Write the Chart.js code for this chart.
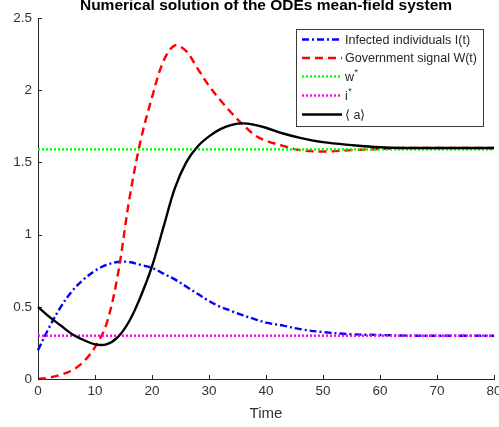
<!DOCTYPE html>
<html>
<head>
<meta charset="utf-8">
<script src="https://cdn.jsdelivr.net/npm/chart.js@4/dist/chart.umd.min.js"></script>
<style>
  body { margin: 0; background: #fff; }
  canvas { display: block; }
</style>
</head>
<body>
<canvas id="odeChart" width="499" height="427"></canvas>
<script>
// values
const time     = [0, 2, 4, 6, 8, 10, 12, 14, 16, 18, 20, 22, 24, 26, 28, 30, 32, 34, 36, 38, 40, 43, 46, 50, 55, 60, 65, 70, 75, 80];
const infected = [0.20, 0.36, 0.50, 0.61, 0.69, 0.75, 0.79, 0.81, 0.81, 0.79, 0.77, 0.73, 0.69, 0.64, 0.59, 0.54, 0.50, 0.47, 0.44, 0.415, 0.39, 0.37, 0.345, 0.325, 0.31, 0.305, 0.30, 0.30, 0.30, 0.30];
const signal   = [0.00, 0.01, 0.03, 0.06, 0.12, 0.22, 0.38, 0.72, 1.24, 1.65, 1.95, 2.20, 2.31, 2.27, 2.15, 2.03, 1.93, 1.84, 1.76, 1.69, 1.65, 1.615, 1.585, 1.575, 1.585, 1.593, 1.60, 1.60, 1.60, 1.60];
const meanA    = [0.50, 0.43, 0.37, 0.31, 0.27, 0.24, 0.24, 0.29, 0.40, 0.57, 0.78, 1.05, 1.32, 1.50, 1.61, 1.68, 1.73, 1.76, 1.77, 1.76, 1.74, 1.70, 1.67, 1.64, 1.62, 1.605, 1.60, 1.60, 1.60, 1.60];
const wStar = 1.59;
const iStar = 0.30;
const xRange = [0, 80];
const titleText = 'Numerical solution of the ODEs mean-field system';

const axisColor = '#262626';
const fontFamily = '"Liberation Sans", Arial, sans-serif';

function series(ys) {
    return time.map(function (t, i) { return { x: t, y: ys[i] }; });
}
function flat(v) {
    return xRange.map(function (t) { return { x: t, y: v }; });
}

// inward tick marks, like the original figure
const innerTicks = {
    id: 'innerTicks',
    afterDraw(chart) {
        const ctx = chart.ctx;
        const xs = chart.scales.x, ys = chart.scales.y;
        ctx.save();
        ctx.strokeStyle = axisColor;
        ctx.lineWidth = 1;
        ctx.beginPath();
        xs.ticks.forEach(function (t) {
            const px = Math.round(xs.getPixelForValue(t.value)) + 0.5;
            ctx.moveTo(px, ys.bottom);
            ctx.lineTo(px, ys.bottom - 4);
        });
        ys.ticks.forEach(function (t) {
            const py = Math.round(ys.getPixelForValue(t.value)) + 0.5;
            ctx.moveTo(xs.left, py);
            ctx.lineTo(xs.left + 4, py);
        });
        ctx.stroke();
        ctx.restore();
    }
};

// title and boxed legend inside the plot
const boxLegend = {
    id: 'boxLegend',
    afterDraw(chart) {
        const ctx = chart.ctx;
        ctx.save();
        ctx.fillStyle = '#000';
        ctx.font = 'bold 15.5px ' + fontFamily;
        ctx.textAlign = 'center';
        ctx.textBaseline = 'alphabetic';
        ctx.fillText(titleText, (chart.chartArea.left + chart.chartArea.right) / 2, 10);

        const bx = 296.5, by = 29.5, bw = 187, bh = 97;
        ctx.fillStyle = '#fff';
        ctx.fillRect(bx, by, bw, bh);
        ctx.strokeStyle = '#3a3a3a';
        ctx.lineWidth = 1;
        ctx.strokeRect(bx, by, bw, bh);

        const rows = [39.5, 58, 76.5, 95.5, 114.5];
        const entries = chart.data.datasets.slice().sort(function (a, b) { return a.legendIndex - b.legendIndex; });
        entries.forEach(function (ds, i) {
            const y = rows[i];
            ctx.save();
            ctx.strokeStyle = ds.borderColor;
            ctx.lineWidth = ds.borderWidth;
            ctx.setLineDash(ds.borderDash || []);
            ctx.beginPath();
            ctx.moveTo(302, y);
            ctx.lineTo(342, y);
            ctx.stroke();
            ctx.restore();

            ctx.fillStyle = '#262626';
            ctx.textAlign = 'left';
            ctx.textBaseline = 'middle';
            ctx.font = '12.5px ' + fontFamily;
            const parts = ds.label.split('^');
            ctx.fillText(parts[0], 345, y + 1);
            if (parts[1]) {
                const w = ctx.measureText(parts[0]).width;
                ctx.font = '9px ' + fontFamily;
                ctx.fillText(parts[1], 345 + w + 0.5, y - 4);
            }
        });
        ctx.restore();
    }
};

new Chart(document.getElementById('odeChart'), {
    type: 'line',
    data: {
        datasets: [
            {
                label: 'Infected individuals I(t)', legendIndex: 0, order: 5,
                data: series(infected),
                borderColor: '#0000ff', borderWidth: 2.4, borderDash: [7, 3, 2, 3]
            },
            {
                label: 'Government signal W(t)', legendIndex: 1, order: 4,
                data: series(signal),
                borderColor: '#ff0000', borderWidth: 2.4, borderDash: [8, 5]
            },
            {
                label: 'w^*', legendIndex: 2, order: 3,
                data: flat(wStar),
                borderColor: '#00ff00', borderWidth: 2.4, borderDash: [2, 2], tension: 0
            },
            {
                label: 'i^*', legendIndex: 3, order: 2,
                data: flat(iStar),
                borderColor: '#ff00ff', borderWidth: 2.4, borderDash: [2, 2], tension: 0
            },
            {
                label: '\u27E8 a\u27E9', legendIndex: 4, order: 1,
                data: series(meanA),
                borderColor: '#000000', borderWidth: 2.4
            }
        ]
    },
    options: {
        responsive: false,
        animation: false,
        devicePixelRatio: 1,
        clip: false,
        layout: { padding: { top: 18, right: 5, left: 0, bottom: 0 } },
        elements: {
            point: { radius: 0 },
            line: { tension: 0.35, fill: false }
        },
        plugins: {
            legend: { display: false },
            title: { display: false },
            tooltip: { enabled: false }
        },
        scales: {
            x: {
                type: 'linear',
                min: xRange[0],
                max: xRange[1],
                ticks: {
                    stepSize: 10,
                    color: '#333',
                    padding: 4,
                    maxRotation: 0,
                    font: { family: fontFamily, size: 13.5 }
                },
                grid: { display: false, drawTicks: false },
                border: { display: true, color: axisColor, width: 1 },
                title: {
                    display: true,
                    text: 'Time',
                    color: '#333',
                    padding: { top: 0, bottom: 4 },
                    font: { family: fontFamily, size: 15 }
                },
                afterFit(scale) {
                    scale.height = 48;
                    scale.paddingLeft = 0;
                    scale.paddingRight = 0;
                }
            },
            y: {
                min: 0,
                max: 2.5,
                ticks: {
                    stepSize: 0.5,
                    color: '#333',
                    padding: 6,
                    font: { family: fontFamily, size: 13.5 },
                    callback: function (v) { return String(Math.round(v * 10) / 10); }
                },
                grid: { display: false, drawTicks: false },
                border: { display: true, color: axisColor, width: 1 },
                afterFit(scale) {
                    scale.width = 38;
                    scale.paddingTop = 0;
                    scale.paddingBottom = 0;
                }
            }
        }
    },
    plugins: [innerTicks, boxLegend]
});
</script>
</body>
</html>
